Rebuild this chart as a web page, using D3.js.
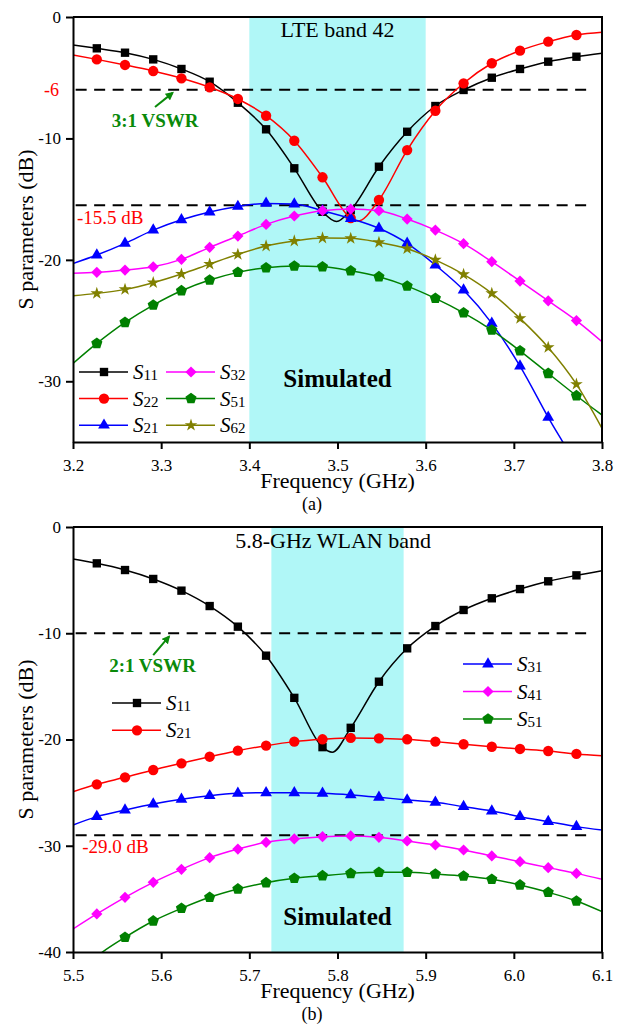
<!DOCTYPE html>
<html>
<head>
<meta charset="utf-8">
<script src="https://cdn.jsdelivr.net/npm/d3@7"></script>
<style>
  body { margin: 0; background: #fff; }
  svg { font-family: "Liberation Serif", "Times New Roman", serif; }
</style>
</head>
<body>
<script>
// ---- data ----
// marker frequencies (GHz)
var freqA = [3.227, 3.259, 3.291, 3.323, 3.355, 3.387, 3.419, 3.451, 3.483,
             3.515, 3.547, 3.579, 3.611, 3.643, 3.675, 3.707, 3.739, 3.771];
var freqB = [5.527, 5.559, 5.591, 5.623, 5.655, 5.687, 5.719, 5.751, 5.783,
             5.815, 5.847, 5.879, 5.911, 5.943, 5.975, 6.007, 6.039, 6.071];

// (a) LTE band 42, dB at the marker frequencies
var s11a = [-2.58, -2.94, -3.49, -4.28, -5.33, -7.06, -9.25, -12.46, -16.04,
            -15.9, -12.33, -9.45, -7.33, -6.01, -5.0, -4.28, -3.68, -3.27];
var s22a = [-3.49, -3.95, -4.45, -5.05, -5.79, -6.75, -8.13, -10.19, -13.2,
            -16.56, -15.07, -10.96, -7.72, -5.46, -3.81, -2.77, -2.03, -1.48];
var s21a = [-19.6, -18.64, -17.55, -16.7, -16.06, -15.6, -15.35, -15.4, -15.95,
            -16.6, -17.4, -18.64, -20.43, -22.49, -25.23, -28.75, -32.97, -37.0];
var s32a = [-21.03, -20.84, -20.57, -19.96, -18.97, -18.04, -17.08, -16.39, -15.95,
            -15.82, -15.95, -16.64, -17.55, -18.67, -20.15, -21.75, -23.37, -25.0];
var s51a = [-26.88, -25.15, -23.72, -22.54, -21.66, -21.03, -20.65, -20.51, -20.57,
            -20.9, -21.39, -22.16, -23.17, -24.36, -25.78, -27.49, -29.35, -31.19];
var s62a = [-22.76, -22.43, -21.88, -21.17, -20.35, -19.55, -18.86, -18.45, -18.2,
            -18.23, -18.56, -19.08, -20.0, -21.2, -22.76, -24.82, -27.21, -30.24];
// values at 3.2 and 3.8 GHz (curve ends)
var s11aEnds = [-2.3, -2.99];
var s22aEnds = [-3.13, -1.26];
var s21aEnds = [-20.3, -41.5];
var s32aEnds = [-21.1, -26.74];
var s51aEnds = [-28.53, -32.78];
var s62aEnds = [-22.95, -33.88];
// curve points between markers (resonance dips)
var s11aDip = [[3.499, -16.85]];
var s22aDip = [[3.523, -16.8]];

// (b) 5.8-GHz WLAN band
var s11b = [-3.42, -4.05, -4.89, -5.99, -7.44, -9.38, -12.11, -16.08, -20.72,
            -18.9, -14.56, -11.42, -9.32, -7.81, -6.71, -5.84, -5.11, -4.55];
var s21b = [-24.22, -23.56, -22.87, -22.24, -21.62, -21.05, -20.58, -20.2, -19.98,
            -19.85, -19.89, -19.98, -20.2, -20.45, -20.68, -20.89, -21.08, -21.36];
var s31b = [-27.26, -26.64, -26.07, -25.63, -25.29, -25.07, -25.01, -25.01, -25.07,
            -25.22, -25.44, -25.69, -25.91, -26.32, -26.73, -27.26, -27.73, -28.2];
var s41b = [-36.42, -34.85, -33.44, -32.22, -31.12, -30.31, -29.68, -29.36, -29.15,
            -29.08, -29.21, -29.55, -29.93, -30.4, -30.96, -31.5, -32.06, -32.6];
var s51b = [-40.4, -38.62, -37.08, -35.89, -34.85, -34.07, -33.48, -33.07, -32.82,
            -32.6, -32.5, -32.5, -32.66, -32.85, -33.16, -33.69, -34.38, -35.2];
var s11bEnds = [-3.01, -4.11];
var s21bEnds = [-24.91, -21.52];
var s31bEnds = [-28.05, -28.52];
var s41bEnds = [-37.84, -33.16];
var s51bEnds = [-42.4, -36.2];
var s11bDip = [[5.794, -21.2]];

// axes / ticks
var xTicksA = [3.2, 3.3, 3.4, 3.5, 3.6, 3.7, 3.8];
var xTicksB = [5.5, 5.6, 5.7, 5.8, 5.9, 6.0, 6.1];
var yTicksA = [0, -10, -20, -30];
var yTicksB = [0, -10, -20, -30, -40];

// ---- drawing ----
var width = 627, height = 1026;
var svg = d3.select("body").append("svg")
            .attr("width", width)
            .attr("height", height);

// arrow head for the VSWR notes
svg.append("defs").append("marker")
   .attr("id", "arrowHead")
   .attr("viewBox", "0 0 10 10")
   .attr("refX", 8).attr("refY", 5)
   .attr("markerWidth", 4.2).attr("markerHeight", 4.2)
   .attr("orient", "auto")
   .append("path")
   .attr("d", "M0,0L10,5L0,10z")
   .attr("fill", "#0a8a0a");

// regular pentagon, size = area
var symbolPentagon = {
  draw: function(ctx, size) {
    var r = Math.sqrt(size / 2.3776);
    for (var i = 0; i < 5; i++) {
      var a = -Math.PI / 2 + i * 2 * Math.PI / 5;
      if (i === 0) ctx.moveTo(r * Math.cos(a), r * Math.sin(a));
      else ctx.lineTo(r * Math.cos(a), r * Math.sin(a));
    }
    ctx.closePath();
  }
};
var shapes = {
  square:   [d3.symbolSquare, 70],
  circle:   [d3.symbolCircle, 84],
  triangle: [d3.symbolTriangle, 60],
  diamond:  [d3.symbolDiamond2, 80],
  pentagon: [symbolPentagon, 82],
  star:     [d3.symbolStar, 50]
};
function symbolPath(kind) {
  return d3.symbol().type(shapes[kind][0]).size(shapes[kind][1])();
}

function drawPanel(p) {
  var left = 73, right = 602;
  var x = d3.scaleLinear().domain(p.xDomain).range([left, right]);
  var y = d3.scaleLinear().domain(p.yDomain).range([p.bottom, p.top]);
  var g = svg.append("g");

  var clipId = "clip" + p.id;
  svg.select("defs").append("clipPath").attr("id", clipId)
     .append("rect")
     .attr("x", left).attr("y", p.top)
     .attr("width", right - left).attr("height", p.bottom - p.top);

  // highlighted band
  g.append("rect")
   .attr("x", x(p.band[0]))
   .attr("y", p.top)
   .attr("width", x(p.band[1]) - x(p.band[0]))
   .attr("height", p.bottom - p.top)
   .attr("fill", "#b0f7f7");

  g.append("text")
   .attr("x", x(p.bandLabel[1])).attr("y", y(p.bandLabel[2]))
   .attr("text-anchor", "middle")
   .attr("font-size", 22)
   .text(p.bandLabel[0]);

  // dashed reference lines
  p.refs.forEach(function(v) {
    g.append("line")
     .attr("x1", x(p.refX[0])).attr("x2", x(p.refX[1]))
     .attr("y1", y(v)).attr("y2", y(v))
     .attr("stroke", "#000").attr("stroke-width", 2)
     .attr("stroke-dasharray", "11,7.5");
  });

  // curves + markers
  var plot = g.append("g").attr("clip-path", "url(#" + clipId + ")");
  var line = d3.line()
               .x(function(d) { return x(d[0]); })
               .y(function(d) { return y(d[1]); })
               .curve(d3.curveMonotoneX);
  p.series.forEach(function(s) {
    var pts = p.freqs.map(function(f, i) { return [f, s.vals[i]]; });
    var linePts = pts.concat([[p.xDomain[0], s.ends[0]], [p.xDomain[1], s.ends[1]]])
                     .concat(s.extra || [])
                     .sort(function(a, b) { return a[0] - b[0]; });
    plot.append("path")
        .datum(linePts)
        .attr("d", line)
        .attr("fill", "none")
        .attr("stroke", s.color)
        .attr("stroke-width", 1.5);
    plot.selectAll(null)
        .data(pts.filter(function(d) { return d[1] >= p.yDomain[0]; }))
        .enter().append("path")
        .attr("d", symbolPath(s.shape))
        .attr("transform", function(d) { return "translate(" + x(d[0]) + "," + y(d[1]) + ")"; })
        .attr("fill", s.color);
  });

  // axes
  var xAxis = g.append("g")
               .attr("transform", "translate(0," + p.bottom + ")")
               .call(d3.axisBottom(x).tickValues(p.xTicks).tickSize(7).tickSizeOuter(0)
                       .tickPadding(10).tickFormat(d3.format(".1f")));
  var yAxis = g.append("g")
               .attr("transform", "translate(" + left + ",0)")
               .call(d3.axisLeft(y).tickValues(p.yTicks).tickSize(7).tickSizeOuter(0)
                       .tickPadding(5).tickFormat(function(d) { return String(d); }));
  [xAxis, yAxis].forEach(function(a) {
    a.select(".domain").attr("stroke-width", 2);
    a.selectAll(".tick line").attr("stroke-width", 2);
    a.selectAll("text").attr("font-size", 17).attr("fill", "#000")
     .attr("font-family", "Liberation Serif, Times New Roman, serif");
  });
  // frame on top / right
  g.append("path")
   .attr("d", "M" + left + "," + p.top + "H" + right + "V" + p.bottom)
   .attr("fill", "none").attr("stroke", "#000").attr("stroke-width", 2);

  // axis titles
  g.append("text")
   .attr("x", (left + right) / 2).attr("y", p.bottom + 46)
   .attr("text-anchor", "middle").attr("font-size", 22)
   .text("Frequency (GHz)");
  g.append("text")
   .attr("transform", "translate(33," + (p.top + p.bottom) / 2 + ") rotate(-90)")
   .attr("text-anchor", "middle").attr("font-size", 22)
   .text("S parameters (dB)");
  g.append("text")
   .attr("x", 312).attr("y", p.bottom + 68)
   .attr("text-anchor", "middle").attr("font-size", 18)
   .text(p.caption);

  // "Simulated"
  g.append("text")
   .attr("x", x(p.simulated[0])).attr("y", y(p.simulated[1]))
   .attr("text-anchor", "middle")
   .attr("font-size", 25).attr("font-weight", "bold")
   .text("Simulated");

  // red notes
  p.redNotes.forEach(function(n) {
    g.append("text")
     .attr("x", n.x != null ? x(n.x) : n.px)
     .attr("y", y(n.y))
     .attr("dy", n.dy || 0)
     .attr("text-anchor", n.anchor || "start")
     .attr("font-size", n.size)
     .attr("fill", "#ff0000")
     .text(n.text);
  });

  // VSWR note and arrow
  g.append("text")
   .attr("x", x(p.vswr.at[0])).attr("y", y(p.vswr.at[1]))
   .attr("font-size", 19).attr("font-weight", "bold")
   .attr("fill", "#0a8a0a")
   .text(p.vswr.text);
  g.append("line")
   .attr("x1", x(p.vswr.from[0])).attr("y1", y(p.vswr.from[1]))
   .attr("x2", x(p.vswr.to[0])).attr("y2", y(p.vswr.to[1]))
   .attr("stroke", "#0a8a0a").attr("stroke-width", 2)
   .attr("marker-end", "url(#arrowHead)");

  // legends
  p.legends.forEach(function(L) {
    L.items.forEach(function(name, i) {
      var s = p.series.filter(function(d) { return d.name === name; })[0];
      var ly = L.y + i * L.step;
      var lg = g.append("g");
      lg.append("line")
        .attr("x1", L.x).attr("x2", L.x + 49)
        .attr("y1", ly).attr("y2", ly)
        .attr("stroke", s.color).attr("stroke-width", 1.5);
      lg.append("path")
        .attr("d", symbolPath(s.shape))
        .attr("transform", "translate(" + (L.x + 25) + "," + ly + ")")
        .attr("fill", s.color);
      var t = lg.append("text")
                .attr("x", L.x + 54).attr("y", ly + 7);
      t.append("tspan").attr("font-style", "italic").attr("font-size", 21).text("S");
      t.append("tspan").attr("font-size", 15).attr("dy", 1).text(name);
    });
  });
}

var seriesA = [
  {name: "11", color: "#000000", shape: "square",   vals: s11a, ends: s11aEnds, extra: s11aDip},
  {name: "22", color: "#ff0000", shape: "circle",   vals: s22a, ends: s22aEnds, extra: s22aDip},
  {name: "21", color: "#0000ff", shape: "triangle", vals: s21a, ends: s21aEnds},
  {name: "32", color: "#ff00ff", shape: "diamond",  vals: s32a, ends: s32aEnds},
  {name: "51", color: "#008000", shape: "pentagon", vals: s51a, ends: s51aEnds},
  {name: "62", color: "#808000", shape: "star",     vals: s62a, ends: s62aEnds}
];
var seriesB = [
  {name: "11", color: "#000000", shape: "square",   vals: s11b, ends: s11bEnds, extra: s11bDip},
  {name: "21", color: "#ff0000", shape: "circle",   vals: s21b, ends: s21bEnds},
  {name: "31", color: "#0000ff", shape: "triangle", vals: s31b, ends: s31bEnds},
  {name: "41", color: "#ff00ff", shape: "diamond",  vals: s41b, ends: s41bEnds},
  {name: "51", color: "#008000", shape: "pentagon", vals: s51b, ends: s51bEnds}
];

drawPanel({
  id: "A", top: 17, bottom: 442,
  xDomain: [3.2, 3.8], yDomain: [-35, 0],
  xTicks: xTicksA, yTicks: yTicksA,
  freqs: freqA, series: seriesA,
  band: [3.4, 3.6], bandLabel: ["LTE band 42", 3.5, -1.65],
  refs: [-6, -15.5], refX: [3.203, 3.79],
  simulated: [3.5, -30.5],
  caption: "(a)",
  redNotes: [
    {text: "-6", px: 59, y: -6, dy: "0.34em", anchor: "end", size: 18},
    {text: "-15.5 dB", x: 3.2045, y: -17.05, size: 19}
  ],
  vswr: {text: "3:1 VSWR", at: [3.244, -9.06], from: [3.293, -7.41], to: [3.313, -6.25]},
  legends: [
    {x: 79, y: 372, step: 26.6, items: ["11", "22", "21"]},
    {x: 166, y: 372, step: 26.6, items: ["32", "51", "62"]}
  ]
});

drawPanel({
  id: "B", top: 527, bottom: 952,
  xDomain: [5.5, 6.1], yDomain: [-40, 0],
  xTicks: xTicksB, yTicks: yTicksB,
  freqs: freqB, series: seriesB,
  band: [5.725, 5.875], bandLabel: ["5.8-GHz WLAN band", 5.795, -1.98],
  refs: [-10, -29], refX: [5.503, 6.09],
  simulated: [5.8, -37.45],
  caption: "(b)",
  redNotes: [
    {text: "-29.0 dB", x: 5.5105, y: -30.68, size: 19}
  ],
  vswr: {text: "2:1 VSWR", at: [5.541, -13.62], from: [5.591, -12.05], to: [5.609, -10.3]},
  legends: [
    {x: 112, y: 703, step: 27.3, items: ["11", "21"]},
    {x: 463, y: 664, step: 27.5, items: ["31", "41", "51"]}
  ]
});
</script>
</body>
</html>
